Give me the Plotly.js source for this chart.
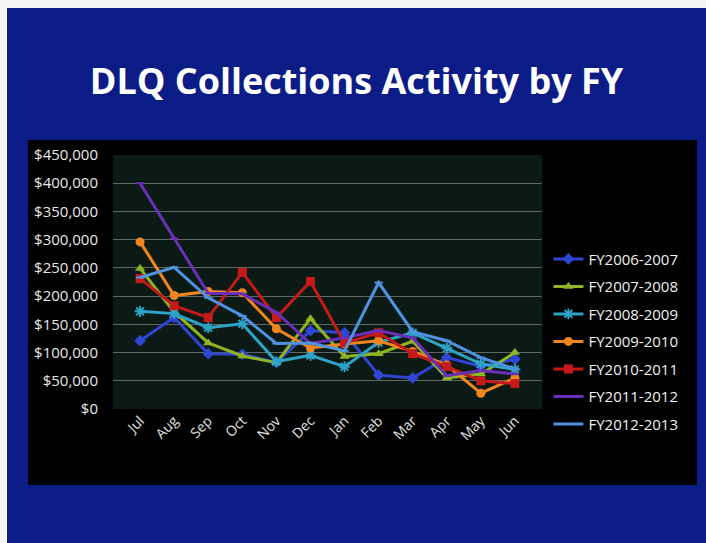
<!DOCTYPE html>
<html>
<head>
<meta charset="utf-8">
<script src="https://cdn.plot.ly/plotly-3.0.1.min.js"></script>
<style>
  body { margin: 0; background: #f4f4f4; }
  #chart { position: absolute; left: 7px; top: 8px; width: 699px; height: 535px; }
</style>
</head>
<body>
<div id="chart"></div>
<script>
const months = ['Jul', 'Aug', 'Sep', 'Oct', 'Nov', 'Dec', 'Jan', 'Feb', 'Mar', 'Apr', 'May', 'Jun'];

const fy0607 = [121000, 162000, 98000, 97000, 82000, 139000, 135000, 60000, 55000, 91000, 76000, 88000];
const fy0708 = [249000, 172000, 117000, 94000, 82000, 160000, 93000, 98000, 120000, 55000, 62000, 100000];
const fy0809 = [173000, 169000, 144000, 151000, 84000, 95000, 75000, 118000, 135000, 108000, 80000, 70000];
const fy0910 = [296000, 201000, 208000, 206000, 142000, 108000, 115000, 121000, 102000, 78000, 28000, 55000];
const fy1011 = [231000, 183000, 162000, 242000, 162000, 226000, 117000, 135000, 98000, 75000, 50000, 45000];
const fy1112 = [400000, 302000, 205000, 204000, 171000, 116000, 126000, 139000, 126000, 59000, 68000, 62000];
const fy1213 = [233000, 251000, 197000, 165000, 116000, 117000, 103000, 224000, 137000, 121000, 91000, 71000];

const seriesNames = ['FY2006-2007', 'FY2007-2008', 'FY2008-2009', 'FY2009-2010', 'FY2010-2011', 'FY2011-2012', 'FY2012-2013'];
const seriesValues = [fy0607, fy0708, fy0809, fy0910, fy1011, fy1112, fy1213];
const colors = ['#2f45d4', '#8fb523', '#2ea3c8', '#f2861e', '#c41a1a', '#6a2fb8', '#4f93e0'];
const symbols = ['diamond', 'triangle-up', 'asterisk', 'circle', 'square', 'line-ew', 'line-ew'];

const traces = seriesNames.map((name, i) => ({
  x: months,
  y: seriesValues[i],
  name: name,
  type: 'scatter',
  mode: 'lines+markers',
  legendgroup: name,
  line: {color: colors[i], width: 3},
  marker: {
    symbol: symbols[i],
    size: symbols[i] === 'line-ew' ? 6 : 9,
    color: colors[i],
    line: {color: colors[i], width: symbols[i] === 'asterisk' || symbols[i] === 'line-ew' ? 2 : 0}
  }
}));

const layout = {
  width: 699,
  height: 535,
  paper_bgcolor: '#0c1c86',
  margin: {l: 106, r: 164, t: 147, b: 134},
  font: {family: 'Open Sans, sans-serif', color: '#e8e8e8'},
  title: {
    text: '<b>DLQ Collections Activity by FY</b>',
    font: {family: 'Open Sans, sans-serif', size: 36, color: '#ffffff'},
    x: 0.5, xanchor: 'center',
    yref: 'container', y: 0.862, yanchor: 'middle'
  },
  xaxis: {
    type: 'category',
    tickangle: -45,
    tickfont: {size: 14, color: '#e0e0e0'},
    showgrid: false,
    zeroline: false,
    showline: false,
    ticks: ''
  },
  yaxis: {
    range: [0, 450000],
    dtick: 50000,
    tickprefix: '$',
    tickformat: ',d',
    tickfont: {size: 15, color: '#e8e8e8'},
    gridcolor: 'rgba(200,200,200,0.45)',
    gridwidth: 1,
    zeroline: false,
    showline: false,
    ticks: '',
    ticklabelstandoff: 14
  },
  legend: {
    x: 1.015, xanchor: 'left',
    y: 0.655, yanchor: 'top',
    bgcolor: 'rgba(0,0,0,0)',
    font: {size: 15, color: '#f0f0f0'},
    traceorder: 'grouped',
    tracegroupgap: 5,
    itemwidth: 30
  },
  shapes: [{
    type: 'rect', xref: 'paper', yref: 'paper', layer: 'below',
    x0: -0.198, x1: 1.361, y0: -0.299, y1: 1.059,
    fillcolor: '#000000', line: {width: 0}
  }, {
    type: 'rect', xref: 'paper', yref: 'paper', layer: 'below',
    x0: 0, x1: 1, y0: 0, y1: 1,
    fillcolor: '#0b1a14', line: {width: 0}
  }],
  showlegend: true
};

Plotly.newPlot('chart', traces, layout, {displayModeBar: false});
</script>
</body>
</html>
